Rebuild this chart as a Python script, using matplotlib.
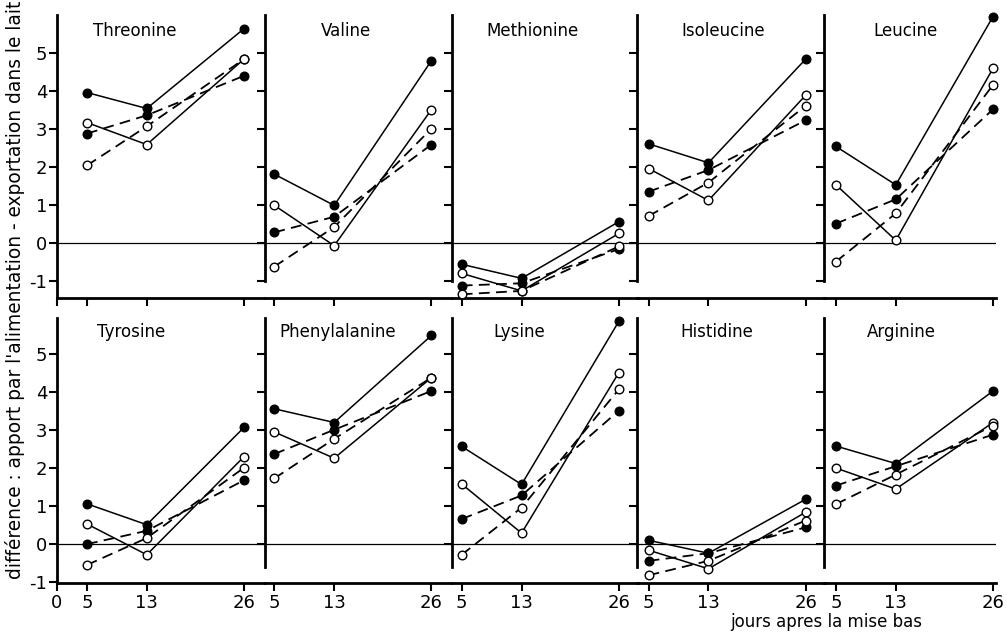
import matplotlib.pyplot as plt

plt.rcParams['font.family'] = ['DejaVu Sans']

days = [5, 13, 26]
acides = ["Threonine", "Valine", "Methionine", "Isoleucine", "Leucine",
          "Tyrosine", "Phenylalanine", "Lysine", "Histidine", "Arginine"]

# trait plein, point noir
plein_noir = [
    [3.96, 3.54, 5.64],
    [1.81, 0.99, 4.80],
    [-0.56, -0.93, 0.56],
    [2.61, 2.11, 4.84],
    [2.54, 1.53, 5.96],
    [1.06, 0.51, 3.07],
    [3.56, 3.20, 5.49],
    [2.57, 1.57, 5.86],
    [0.10, -0.24, 1.18],
    [2.58, 2.12, 4.03],
]
# trait plein, point blanc
plein_blanc = [
    [3.17, 2.59, 4.84],
    [0.99, -0.07, 3.51],
    [-0.80, -1.26, 0.25],
    [1.96, 1.12, 3.89],
    [1.53, 0.07, 4.60],
    [0.53, -0.28, 2.30],
    [2.95, 2.26, 4.38],
    [1.58, 0.29, 4.51],
    [-0.16, -0.65, 0.84],
    [2.00, 1.45, 3.20],
]
# tirets, point noir
tirets_noir = [
    [2.88, 3.36, 4.40],
    [0.28, 0.69, 2.59],
    [-1.12, -1.06, -0.16],
    [1.35, 1.92, 3.23],
    [0.51, 1.15, 3.52],
    [0.00, 0.35, 1.68],
    [2.37, 3.01, 4.03],
    [0.66, 1.28, 3.51],
    [-0.44, -0.24, 0.44],
    [1.54, 2.05, 2.88],
]
# tirets, point blanc
tirets_blanc = [
    [2.04, 3.07, 4.84],
    [-0.62, 0.42, 3.01],
    [-1.35, -1.26, -0.09],
    [0.71, 1.59, 3.61],
    [-0.49, 0.78, 4.16],
    [-0.55, 0.16, 2.01],
    [1.73, 2.77, 4.38],
    [-0.28, 0.96, 4.07],
    [-0.82, -0.44, 0.62],
    [1.05, 1.83, 3.12],
]

# layout (pixels)
W, H = 1007, 632
px_jour = 7.48
px_unite = 38
col_left = [57, 265, 452, 637, 824]
col_xlim = [(1, 28.7), (3.75, 28.6), (3.7, 28.55), (3.45, 28.55), (3.4, 26.35)]
row_top = [15, 318]
row_ylim = [(-1.45, 6.0), (-1.03, 5.95)]
titre_x = [11.4, 14.6, 14.5, 15.0, 14.3, 10.9, 13.5, 12.7, 14.1, 13.8]

fig = plt.figure(figsize=(W / 100, H / 100), dpi=100)

tiret = (0, (6, 3.5))
series = [
    (plein_noir, '-', 1.1, 'black'),
    (plein_blanc, '-', 1.1, 'white'),
    (tirets_noir, tiret, 1.3, 'black'),
    (tirets_blanc, tiret, 1.3, 'white'),
]

for i, nom in enumerate(acides):
    r, c = divmod(i, 5)
    x0, x1 = col_xlim[c]
    y0, y1 = row_ylim[r]
    w = (x1 - x0) * px_jour
    h = (y1 - y0) * px_unite
    left = col_left[c]
    bottom = row_top[r] + h
    ax = fig.add_axes([left / W, 1 - bottom / H, w / W, h / H])
    ax.set_xlim(x0, x1)
    ax.set_ylim(y0, y1)

    ax.axhline(0, color='black', lw=0.9, zorder=1)

    for vals, ls, lw, fc in series:
        ax.plot(days, vals[i], ls=ls, color='black', lw=lw, zorder=2,
                clip_on=False)
    for vals, ls, lw, fc in series:
        ax.plot(days, vals[i], ls='none', marker='o', ms=6.2, mfc=fc,
                mec='black', mew=1.0, zorder=3, clip_on=False)

    ax.text(titre_x[i], 5.57, nom, ha='center', va='center', fontsize=12)

    for s in ['top', 'right']:
        ax.spines[s].set_visible(False)
    ax.spines['left'].set_linewidth(2)
    ax.spines['bottom'].set_linewidth(2)

    if c == 0:
        ax.set_xticks([x0] + days)
        ax.set_yticks(range(-1, 6))
        ax.set_yticklabels([str(v) for v in range(-1, 6)])
    else:
        ax.set_xticks(days)
        if r == 0:
            ax.spines['left'].set_bounds(-1, y1)
            ax.set_yticks(range(-1, 6))
        else:
            ax.spines['left'].set_bounds(-0.6, y1)
            ax.set_yticks(range(0, 6))
        ax.set_yticklabels([])

    if r == 1:
        labels = ['0', '5', '13', '26'] if c == 0 else ['5', '13', '26']
        ax.set_xticklabels(labels)
    else:
        ax.set_xticklabels([])

    ax.tick_params(direction='out', length=6, width=1.5, labelsize=13, pad=1)
    ax.tick_params(axis='x', pad=1.5)
    ax.patch.set_visible(False)

fig.text(15 / W, 1 - 290 / H,
         "différence : apport par l'alimentation - exportation dans le lait",
         rotation=90, ha='center', va='center', fontsize=13.4)
fig.text(826 / W, 1 - 622 / H, "jours apres la mise bas",
         ha='center', va='center', fontsize=12)

fig.savefig("out.png", dpi=100)
plt.close()
